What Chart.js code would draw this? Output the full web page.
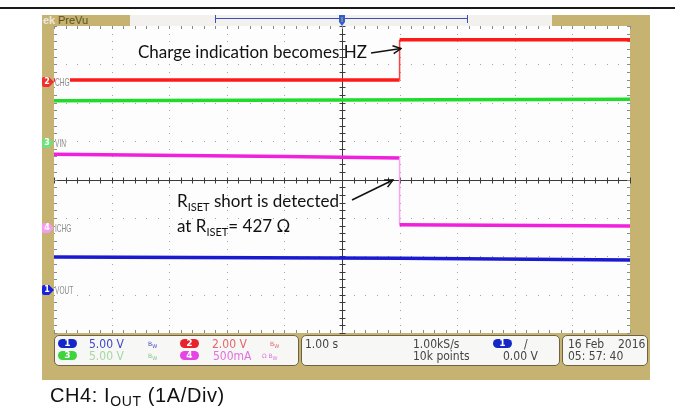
<!DOCTYPE html>
<html><head><meta charset="utf-8">
<script src="https://cdn.jsdelivr.net/npm/chart.js@4.4.1/dist/chart.umd.min.js"></script>
<style>
html,body{margin:0;padding:0;background:#fff}
#wrap{position:relative;width:675px;height:410px;overflow:hidden;background:#fff}
.abs{position:absolute}
#topline{left:0;top:7px;width:675px;height:2px;background:#1a1a1a}
#tan{left:42px;top:15px;width:608px;height:365px;background:#c6b371}
#strip{left:130px;top:15px;width:422px;height:11px;background:#f3f1ee}
#c{position:absolute;left:0;top:0}
.box{position:absolute;background:#f7f7f5;border:1px solid #6e6244;border-radius:5px;box-sizing:border-box}
.st{position:absolute;font-family:'Liberation Sans Narrow','DejaVu Sans Condensed','Liberation Sans',sans-serif;font-size:12px;line-height:12px;white-space:nowrap;color:#444}
.pill{position:absolute;width:19px;height:9px;border-radius:5px;color:#fff;font:bold 9px/9px 'DejaVu Sans',sans-serif;text-align:center}
.bw{position:absolute;font-family:'DejaVu Sans',sans-serif;font-size:6px;line-height:6px;white-space:nowrap}
.ann{position:absolute;font-family:Lato,'Open Sans',sans-serif;font-size:17px;color:#111;white-space:nowrap;line-height:17px}
.ann sub{font-size:11px;vertical-align:-4px;line-height:0}
.lab{position:absolute;font-family:'Liberation Sans',sans-serif;font-size:11px;line-height:11px;color:#8a8a8a;white-space:nowrap;background:#fdfdfd;padding-right:1px;transform:scaleX(0.6);transform-origin:0 0}
.mk{position:absolute;font:bold 8px/10px 'DejaVu Sans',sans-serif;color:#fff;width:10px;text-align:center}
#cap{left:50px;top:385px;font-family:'Liberation Sans',Arial,sans-serif;font-size:20px;line-height:20px;letter-spacing:0.6px;color:#111;white-space:nowrap}
#cap sub{font-size:14px;vertical-align:-4px;line-height:0}
</style></head>
<body>
<div id="wrap">
  <div id="topline" class="abs"></div>
  <div id="tan" class="abs"></div>
  <div id="strip" class="abs"></div>
  <div class="abs" style="left:43px;top:14px;font:bold 11px/12px 'Liberation Sans',sans-serif;color:#ece8dc">ek</div>
  <div class="abs" style="left:58px;top:14px;font:11px/12px 'Liberation Sans Narrow','Liberation Sans',sans-serif;color:#5b4f1c">PreVu</div>
  <canvas id="c" width="675" height="410"></canvas>
  <svg class="abs" style="left:0;top:0" width="675" height="410">
    <defs>
      <marker id="ah" markerWidth="10" markerHeight="10" refX="9" refY="5" orient="auto" markerUnits="userSpaceOnUse">
        <path d="M1,1 L9,5 L1,9" fill="none" stroke="#111" stroke-width="1.5"/>
      </marker>
    </defs>
    <line x1="215" y1="18.5" x2="468" y2="18.5" stroke="#3b4fc4" stroke-width="1"/>
    <line x1="215.5" y1="15" x2="215.5" y2="23" stroke="#3b4fc4" stroke-width="1"/>
    <line x1="467.5" y1="15" x2="467.5" y2="23" stroke="#3b4fc4" stroke-width="1"/>
    <path d="M339,15 H345 V22 L342,26 L339,22 Z" fill="#2a5fd6"/>
    <line x1="342" y1="17" x2="342" y2="22" stroke="#f0a030" stroke-width="1"/>
    <path d="M44,77 H49 L54,82 L49,87 H44 Q42,87 42,85 V79 Q42,77 44,77 Z" fill="#f03030"/>
    <path d="M44,138 H49 L54,143 L49,148 H44 Q42,148 42,146 V140 Q42,138 44,138 Z" fill="#6fe07a"/>
    <path d="M44,223 H49 L54,228 L49,233 H44 Q42,233 42,231 V225 Q42,223 44,223 Z" fill="#f49cf4"/>
    <path d="M44,285 H49 L54,290 L49,295 H44 Q42,295 42,293 V287 Q42,285 44,285 Z" fill="#1a22e0"/>
    <line x1="371" y1="53" x2="401" y2="48.5" stroke="#111" stroke-width="1.5" marker-end="url(#ah)"/>
    <line x1="352" y1="200" x2="393" y2="180" stroke="#111" stroke-width="1.5" marker-end="url(#ah)"/>
  </svg>
  <div class="mk" style="left:42px;top:77px">2</div>
  <div class="mk" style="left:42px;top:138px">3</div>
  <div class="mk" style="left:42px;top:223px">4</div>
  <div class="mk" style="left:42px;top:285px">1</div>
  <div class="lab" style="left:55px;top:77px">CHG</div>
  <div class="lab" style="left:55px;top:138px">VIN</div>
  <div class="lab" style="left:55px;top:223px">ICHG</div>
  <div class="lab" style="left:55px;top:285px">VOUT</div>

  <div class="ann" style="left:138px;top:43px">Charge indication becomes HZ</div>
  <div class="ann" style="left:177px;top:192px">R<sub>ISET</sub> short is detected</div>
  <div class="ann" style="left:177px;top:217px">at R<sub>ISET</sub>= 427 Ω</div>

  <div class="box" style="left:54px;top:335px;width:245px;height:31px"></div>
  <div class="box" style="left:301px;top:335px;width:259px;height:31px"></div>
  <div class="box" style="left:562px;top:335px;width:86px;height:31px"></div>

  <div class="pill" style="left:58px;top:339px;background:#1428c8">1</div>
  <div class="st" style="left:89px;top:338px;color:#3c46c8">5.00 V</div>
  <div class="bw" style="left:148px;top:341px;color:#3c46c8">B<sub>W</sub></div>
  <div class="pill" style="left:180px;top:339px;background:#e8232b">2</div>
  <div class="st" style="left:212px;top:338px;color:#e4646a">2.00 V</div>
  <div class="bw" style="left:270px;top:341px;color:#e4646a">B<sub>W</sub></div>

  <div class="pill" style="left:58px;top:351px;background:#3ed43e">3</div>
  <div class="st" style="left:89px;top:350px;color:#a3d8a3">5.00 V</div>
  <div class="bw" style="left:148px;top:353px;color:#7cc87c">B<sub>W</sub></div>
  <div class="pill" style="left:180px;top:351px;background:#e645e6">4</div>
  <div class="st" style="left:213px;top:350px;color:#e070e0">500mA</div>
  <div class="bw" style="left:262px;top:353px;color:#e070e0">Ω B<sub>W</sub></div>

  <div class="st" style="left:305px;top:338px">1.00 s</div>
  <div class="st" style="left:413px;top:338px">1.00kS/s</div>
  <div class="st" style="left:413px;top:350px">10k points</div>
  <div class="pill" style="left:493px;top:339px;background:#1428c8">1</div>
  <div class="st" style="left:524px;top:338px">/</div>
  <div class="st" style="left:503px;top:350px">0.00 V</div>
  <div class="st" style="left:568px;top:338px">16 Feb</div>
  <div class="st" style="left:618px;top:338px">2016</div>
  <div class="st" style="left:568px;top:350px">05: 57: 40</div>

  <div id="cap" class="abs">CH4: I<sub>OUT</sub> (1A/Div)</div>
</div>
<script>
// Time in seconds (1.00 s/div, trigger at centre), levels in screen divisions
const chgTime  = [-5, 1, 1, 5];
const chgLevel = [2.59, 2.59, 3.64, 3.64];
const vinTime  = [-5, 0, 5];
const vinLevel = [2.05, 2.07, 2.09];
const ichgTime  = [-5, -1, 1, 1, 5];
const ichgLevel = [0.66, 0.60, 0.56, -1.18, -1.21];
const voutTime  = [-5, 1, 5];
const voutLevel = [-2.02, -2.05, -2.10];

const xTicks = [-5,-4,-3,-2,-1,0,1,2,3,4,5];
const yTicks = [-4,-3,-2,-1,0,1,2,3,4];

function pts(t, v){ return t.map((x,i)=>({x:x, y:v[i]})); }
function ds(t, v, color, edge){
  return {
    data: pts(t, v), borderColor: color, borderWidth: 3.5, pointRadius: 0, tension: 0,
    segment: {
      borderWidth: c => (c.p0.parsed.x === c.p1.parsed.x ? 1.5 : 3.5),
      borderColor: c => (c.p0.parsed.x === c.p1.parsed.x ? edge : color)
    }
  };
}

const graticule = {
  id: 'graticule',
  beforeDatasetsDraw(chart){
    const {ctx, chartArea:a, scales:{x, y}} = chart;
    ctx.save();
    ctx.fillStyle = '#fdfdfd';
    ctx.fillRect(a.left, a.top, a.right - a.left, a.bottom - a.top);
    ctx.fillStyle = '#a4a4a4';
    xTicks.forEach(t => {
      if (t === 0 || t === -5 || t === 5) return;
      const px = Math.round(x.getPixelForValue(t));
      for (let k = -20; k <= 20; k++) ctx.fillRect(px, Math.round(y.getPixelForValue(k/5)), 1, 1);
    });
    yTicks.forEach(t => {
      if (t === 0 || t === -4 || t === 4) return;
      const py = Math.round(y.getPixelForValue(t));
      for (let k = -25; k <= 25; k++) ctx.fillRect(Math.round(x.getPixelForValue(k/5)), py, 1, 1);
    });
    const cx = Math.round(x.getPixelForValue(0)) + 0.5;
    const cy = Math.round(y.getPixelForValue(0)) + 0.5;
    ctx.strokeStyle = '#3a3a3a'; ctx.lineWidth = 1;
    ctx.beginPath();
    ctx.moveTo(a.left, cy); ctx.lineTo(a.right, cy);
    ctx.moveTo(cx, a.top); ctx.lineTo(cx, a.bottom);
    for (let k = -25; k <= 25; k++){
      const px = Math.round(x.getPixelForValue(k/5)) + 0.5;
      ctx.moveTo(px, cy - 3); ctx.lineTo(px, cy + 3);
    }
    for (let k = -20; k <= 20; k++){
      const py = Math.round(y.getPixelForValue(k/5)) + 0.5;
      ctx.moveTo(cx - 3, py); ctx.lineTo(cx + 3, py);
    }
    ctx.stroke();
    ctx.strokeStyle = '#8a8a8a';
    ctx.beginPath();
    for (let k = -25; k <= 25; k++){
      const px = Math.round(x.getPixelForValue(k/5)) + 0.5;
      ctx.moveTo(px, a.top); ctx.lineTo(px, a.top + 3);
      ctx.moveTo(px, a.bottom); ctx.lineTo(px, a.bottom - 3);
    }
    for (let k = -20; k <= 20; k++){
      const py = Math.round(y.getPixelForValue(k/5)) + 0.5;
      ctx.moveTo(a.left, py); ctx.lineTo(a.left + 3, py);
      ctx.moveTo(a.right, py); ctx.lineTo(a.right - 3, py);
    }
    ctx.stroke();
    ctx.restore();
  }
};

new Chart(document.getElementById('c'), {
  type: 'line',
  data: { datasets: [
    ds(vinTime, vinLevel, '#1fdc2a', '#1fdc2a'),
    ds(chgTime, chgLevel, '#ff1a1a', '#ff4040'),
    ds(ichgTime, ichgLevel, '#f020dc', '#f6a6f0'),
    ds(voutTime, voutLevel, '#1a1ad0', '#1a1ad0')
  ]},
  options: {
    responsive: false, animation: false, devicePixelRatio: 1,
    layout: { padding: { left: 54, top: 26, right: 45, bottom: 77 } },
    scales: {
      x: { type: 'linear', min: -5, max: 5, display: false },
      y: { type: 'linear', min: -4, max: 4, display: false }
    },
    plugins: { legend: { display: false }, tooltip: { enabled: false } },
    elements: { point: { radius: 0 } }
  },
  plugins: [graticule]
});
</script>
</body></html>
